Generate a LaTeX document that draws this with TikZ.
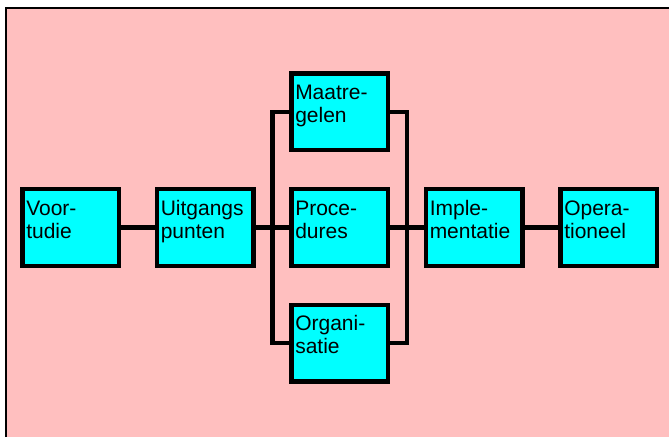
\documentclass[tikz,border=0pt]{standalone}
\usepackage{fontspec}
\setmainfont{Liberation Sans}
\usetikzlibrary{positioning,calc}
\definecolor{achtergrond}{RGB}{255,191,191}
\definecolor{blokkleur}{RGB}{0,255,255}

\begin{document}
\begin{tikzpicture}[
    font=\fontsize{21}{23}\selectfont,
    blok/.style={draw, fill=blokkleur, line width=4.5pt,
                 minimum width=96.5pt, minimum height=76.5pt,
                 text width=88.5pt, align=left, inner xsep=4pt,
                 text height=15pt, text depth=40pt},
    lijn/.style={line width=4.5pt},
    node distance=33.5pt
  ]
    \useasboundingbox (0,0) rectangle (669pt,437pt);
    \fill[achtergrond] (5.8pt,0) rectangle (669pt,428.8pt);
    \draw[line width=2.3pt] (5.8pt,0) -- (5.8pt,428.8pt) -- (669pt,428.8pt);
    \node[blok] (voor) at (70.5pt,209.5pt) {Voor-\\tudie};
    \node[blok, right=of voor] (uit) {Uitgangs\\punten};
    \node[blok, right=of uit] (proc) {Proce-\\dures};
    \node[blok, above=34.5pt of proc] (maat) {Maatre-\\gelen};
    \node[blok, below=34.5pt of proc] (org) {Organi-\\satie};
    \node[blok, right=of proc] (impl) {Imple-\\mentatie};
    \node[blok, right=of impl] (oper) {Opera-\\tioneel};
    \coordinate (busL) at ($(uit.east)!0.5!(proc.west)$);
    \coordinate (busR) at ($(proc.east)!0.5!(impl.west)$);
    \draw[lijn] (voor) -- (uit);
    \draw[lijn] (uit) -- (proc);
    \draw[lijn] (proc) -- (impl);
    \draw[lijn] (impl) -- (oper);
    \draw[lijn] (maat.west) -| (busL) |- (org.west);
    \draw[lijn] (maat.east) -| (busR) |- (org.east);
  \end{tikzpicture}
\end{document}
